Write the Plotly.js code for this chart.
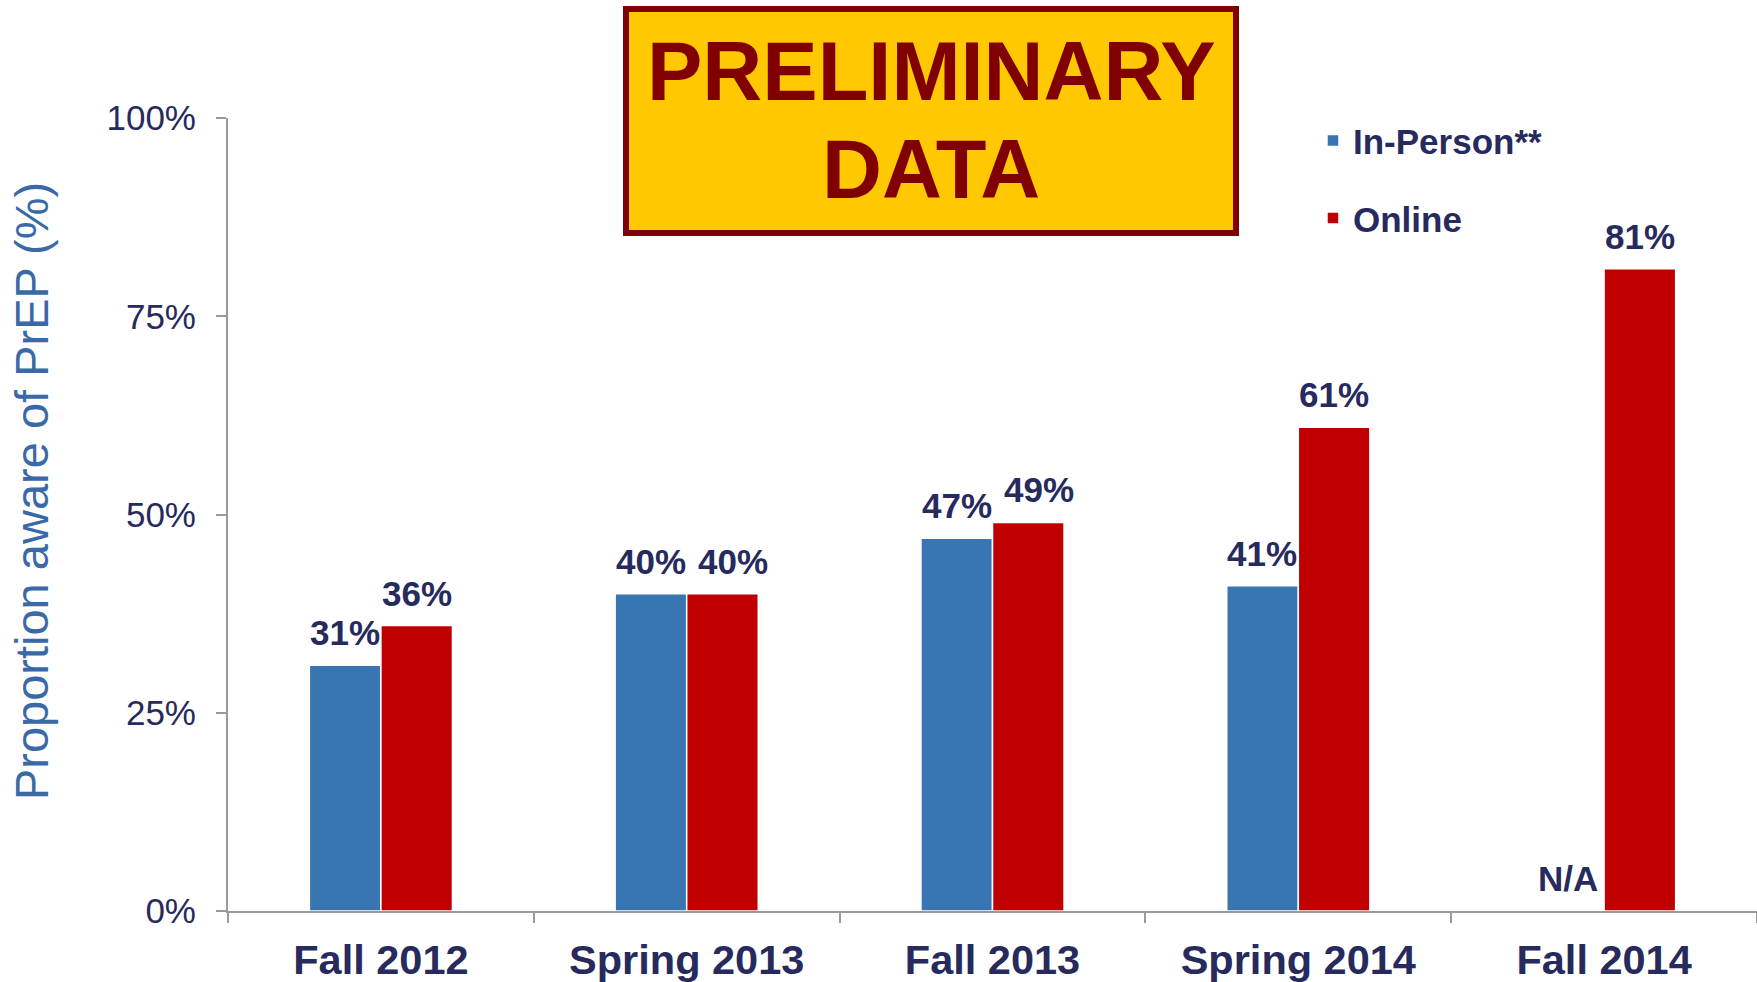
<!DOCTYPE html>
<html>
<head>
<meta charset="utf-8">
<script src="https://cdn.plot.ly/plotly-3.0.1.min.js"></script>
<style>html,body{margin:0;padding:0;background:#fff;}#chart{width:1757px;height:982px;}</style>
</head>
<body>
<div id="chart"></div>
<script>
const categories = ["Fall 2012", "Spring 2013", "Fall 2013", "Spring 2014", "Fall 2014"];
const inPerson = [31, 40, 47, 41, null];
const online = [36, 40, 49, 61, 81];
const seriesNames = ["In-Person**", "Online"];
const yTicks = [0, 25, 50, 75, 100];

const FONT = "Liberation Sans, Arial, sans-serif";
const NAVY = "#262a5c";
const BLUE = "#3776b2";
const RED = "#c00000";

const traces = [
  {type: "bar", name: seriesNames[0], x: categories, y: inPerson, legendgroup: "a",
   marker: {color: BLUE, line: {color: "#ffffff", width: 1.5}}, hoverinfo: "x+y"},
  {type: "bar", name: seriesNames[1], x: categories, y: online, legendgroup: "b",
   marker: {color: RED, line: {color: "#ffffff", width: 1.5}}, hoverinfo: "x+y"}
];

const annotations = [];
function addLabels(vals, other, shift, nudge) {
  vals.forEach((v, i) => {
    // nudge outward when the neighbouring label sits at nearly the same height
    const close = v != null && other[i] != null && Math.abs(v - other[i]) <= 3;
    annotations.push({
      x: categories[i], y: v == null ? 0 : v, xref: "x", yref: "y",
      text: v == null ? "N/A" : v + "%", showarrow: false,
      xshift: shift + (close ? nudge : 0), yshift: 11, yanchor: "bottom", xanchor: "center",
      font: {family: FONT, size: 35, color: NAVY, weight: "bold"}
    });
  });
}
addLabels(inPerson, online, -36, 0);
addLabels(online, inPerson, 36, 10);

annotations.push({
  text: "Proportion aware of PrEP (%)", xref: "paper", yref: "paper",
  x: -0.1288, y: 0.5296, xanchor: "center", yanchor: "middle", textangle: -90,
  showarrow: false, font: {family: FONT, size: 47, color: "#3a69a8"}
});
annotations.push({
  text: "PRELIMINARY", xref: "paper", yref: "paper", x: 0.4598, y: (911 - 71) / 793,
  xanchor: "center", yanchor: "middle", showarrow: false,
  font: {family: FONT, size: 83, color: "#800000", weight: "bold"}
});
annotations.push({
  text: "DATA", xref: "paper", yref: "paper", x: 0.4598, y: (911 - 170) / 793,
  xanchor: "center", yanchor: "middle", showarrow: false,
  font: {family: FONT, size: 83, color: "#800000", weight: "bold"}
});

const layout = {
  width: 1757, height: 982,
  margin: {l: 228, r: 0, t: 118, b: 71, pad: 0},
  paper_bgcolor: "#ffffff", plot_bgcolor: "#ffffff",
  barmode: "group", bargap: 0.532, bargroupgap: 0,
  font: {family: FONT, color: NAVY},
  showlegend: true,
  legend: {x: 0.7096, y: 1.0086, xanchor: "left", yanchor: "top",
    font: {family: FONT, size: 35, color: NAVY, weight: "bold"},
    tracegroupgap: 29, bgcolor: "rgba(0,0,0,0)"},
  xaxis: {
    type: "category", range: [-0.5, 4.5], showline: true, linecolor: "#9a9a9a", linewidth: 2,
    ticks: "outside", tickson: "boundaries", ticklen: 10, tickcolor: "#9a9a9a", tickwidth: 2,
    ticklabelstandoff: 11,
    tickfont: {family: FONT, size: 41.5, color: NAVY, weight: "bold"},
    showgrid: false, zeroline: false, fixedrange: true
  },
  yaxis: {
    range: [0, 100], tickvals: yTicks, ticktext: yTicks.map(v => v + "%"),
    showline: true, linecolor: "#9a9a9a", linewidth: 2,
    ticks: "outside", ticklen: 10, tickcolor: "#9a9a9a", tickwidth: 2,
    ticklabelstandoff: 13,
    tickfont: {family: FONT, size: 35, color: NAVY},
    showgrid: false, zeroline: false, fixedrange: true
  },
  shapes: [{
    type: "rect", xref: "paper", yref: "paper",
    x0: (626 - 228) / 1529, x1: (1236 - 228) / 1529,
    y0: (911 - 233) / 793, y1: (911 - 9) / 793,
    fillcolor: "#ffc800", line: {color: "#7f0000", width: 6}, layer: "above"
  }],
  annotations: annotations
};

Plotly.newPlot("chart", traces, layout, {displayModeBar: false, staticPlot: true});
</script>
</body>
</html>
